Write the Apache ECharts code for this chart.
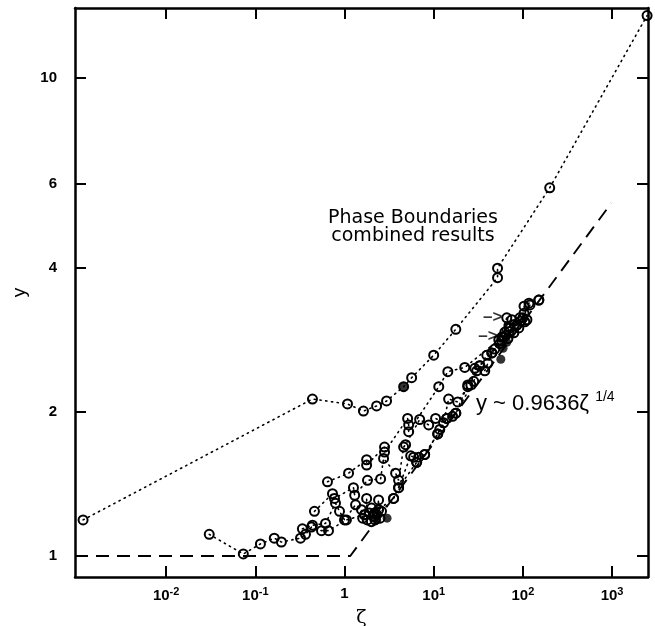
<!DOCTYPE html>
<html><head><meta charset="utf-8">
<script src="https://cdn.jsdelivr.net/npm/echarts@6/dist/echarts.min.js"></script>
<style>html,body{margin:0;padding:0;background:#fff}#c{width:655px;height:626px}</style>
</head><body><div id="c"></div>
<script>
// Axis ticks
const xTicks = [0.01, 0.1, 1, 10, 100, 1000];
const yTicks = [1, 2, 4, 6, 10];
const xRange = [0.00095, 2530];
const yRange = [0.904, 14.0];

// Upper dotted boundary
const seriesA = [[0.00117,1.19],[0.437,2.13],[1.08,2.08],[1.63,2.01],[2.29,2.06],[2.96,2.11],[4.6,2.26],[5.66,2.36],[10,2.63],[17.7,2.98],[52,3.82],[52,4.0],[200,5.89],[2470,13.5]];
// Lowest boundary
const seriesB = [[0.0304,1.11],[0.0733,1.01],[0.114,1.06],[0.163,1.09],[0.196,1.07],[0.321,1.09],[0.365,1.11],[0.426,1.15],[0.552,1.13],[0.661,1.13],[1.05,1.19],[1.68,1.22],[2.41,1.25],[3.55,1.32],[4.04,1.39],[6.44,1.57],[7.92,1.63],[11.1,1.80],[14.0,1.94],[17.7,1.99],[24.1,2.28],[32.9,2.50],[44.9,2.66],[61.2,2.87],[85.6,3.04],[120,3.35],[151,3.43]];
// Middle-upper boundary (ends at upper arrow)
const seriesC = [[0.644,1.43],[1.11,1.49],[1.77,1.59],[1.77,1.55],[2.81,1.69],[2.81,1.65],[5.10,1.94],[5.24,1.88],[5.24,1.82],[11.4,2.26],[14.4,2.43],[22.3,2.48],[53.7,2.83],[66,3.15],[69.6,3.01]];
// Middle boundary (ends at lower arrow)
const seriesD = [[0.46,1.24],[0.733,1.35],[0.772,1.32],[1.26,1.39],[1.30,1.34],[1.81,1.44],[2.54,1.45],[2.74,1.60],[3.74,1.49],[4.04,1.44],[4.60,1.69],[4.84,1.71],[6.96,1.93],[8.79,1.88],[10.5,1.94],[12.9,1.90],[14.7,2.13],[18.6,2.10],[24.1,2.26],[26.1,2.28],[28.9,2.47],[30.4,2.44],[39.4,2.63],[48.4,2.71],[58,2.87]];
// Lower cluster boundary
const seriesE = [[0.337,1.14],[0.437,1.16],[0.612,1.17],[0.792,1.29],[0.879,1.24],[1.0,1.19],[1.33,1.28],[1.55,1.25],[1.6,1.20],[1.68,1.22],[1.77,1.32],[1.8,1.19],[1.9,1.23],[2.0,1.18],[2.01,1.26],[2.1,1.21],[2.17,1.23],[2.2,1.19],[2.3,1.22],[2.41,1.31],[2.5,1.20],[2.6,1.24],[3.55,1.32],[4.04,1.39],[5.52,1.62],[5.96,1.61],[6.44,1.57],[6.78,1.61],[7.92,1.63],[11.1,1.80],[11.7,1.84],[14.0,1.94],[16.3,1.96],[17.7,1.99],[28.1,2.32],[32.9,2.50],[37.4,2.44],[40.5,2.53],[44.9,2.66],[55,2.78],[58,2.82],[61.2,2.87],[62.8,2.94],[65,2.90],[68,2.85],[70,2.95],[72,3.0],[75.2,3.12],[79.2,2.93],[80,3.05],[85.6,3.04],[90,3.0],[92.5,3.15],[95,3.1],[100,3.15],[103,3.22],[105,3.09],[111,3.12],[103,3.33],[117,3.38],[151,3.43]];
// Filled markers
const filledPts = [[4.6,2.26],[56.6,2.58],[3.0,1.20],[2.3,1.19],[60,2.72],[66,2.8]];
// Asymptotes: y = 1 and y ~ 0.9636 zeta^(1/4)
const asymptote = [[0.00095,1],[1.16,1],[980,5.47]];
// Arrow annotations
const arrowPts = [[46,3.15],[40.5,2.88]];

function xLabel(v){
  if (Math.abs(v-1) < 1e-9) return '{b|1}';
  const e = Math.round(Math.log10(v));
  return '{b|10}{s|' + String(e) + '}';
}

function dotted(name, data, z){
  return {type:'line', name, data, symbol:'circle', symbolSize:9, z: z||3,
    itemStyle:{color:'rgba(0,0,0,0)', borderColor:'#000', borderWidth:2},
    lineStyle:{color:'#000', width:1.6, type:[1.3,4.5], cap:'round'},
    emphasis:{disabled:true}, animation:false};
}

const axisCommon = {
  axisLine:{show:true, onZero:false, lineStyle:{color:'#000', width:2.5}},
  splitLine:{show:false},
};

const chart = echarts.init(document.getElementById('c'), null, {renderer:'canvas'});
chart.setOption({
  animation:false,
  backgroundColor:'#fff',
  grid:{left:75, right:7, top:8, bottom:49, containLabel:false, outerBoundsMode:'none'},
  xAxis:[
    Object.assign({type:'log', logBase:10, min:xRange[0], max:xRange[1], position:'bottom',
      name:'ζ', nameLocation:'middle', nameGap:21,
      nameTextStyle:{fontSize:19, color:'#000', fontFamily:'DejaVu Serif'},
      axisTick:{show:true, inside:true, length:11, lineStyle:{color:'#000', width:2}, customValues:xTicks},
      axisLabel:{show:true, margin:9, customValues:xTicks, formatter:xLabel, color:'#000',
        rich:{b:{fontSize:15, fontWeight:'bold', fontFamily:'Liberation Sans', color:'#000'},
              s:{fontSize:11, fontWeight:'bold', fontFamily:'Liberation Sans', color:'#000', verticalAlign:'bottom', padding:[0,0,9,0]}}}
    }, axisCommon),
    Object.assign({type:'log', logBase:10, min:xRange[0], max:xRange[1], position:'top',
      axisTick:{show:true, inside:true, length:11, lineStyle:{color:'#000', width:2}, customValues:xTicks},
      axisLabel:{show:false}}, axisCommon)
  ],
  yAxis:[
    Object.assign({type:'log', logBase:10, min:yRange[0], max:yRange[1], position:'left',
      name:'y', nameLocation:'middle', nameGap:46,
      nameTextStyle:{fontSize:19, color:'#000', fontFamily:'Liberation Sans'},
      axisTick:{show:true, inside:true, length:11, lineStyle:{color:'#000', width:2}, customValues:yTicks},
      axisLabel:{show:true, margin:18, customValues:yTicks, color:'#000', fontSize:15, fontWeight:'bold', fontFamily:'Liberation Sans',
        formatter:(v)=>String(Math.round(v))}
    }, axisCommon),
    Object.assign({type:'log', logBase:10, min:yRange[0], max:yRange[1], position:'right',
      axisTick:{show:true, inside:true, length:11, lineStyle:{color:'#000', width:2}, customValues:yTicks},
      axisLabel:{show:false}}, axisCommon)
  ],
  series:[
    {type:'line', name:'asymptote', data:asymptote, symbol:'none', z:2,
      lineStyle:{color:'#000', width:1.9, type:[13,8]}, emphasis:{disabled:true}},
    dotted('A', seriesA),
    dotted('B', seriesB),
    dotted('C', seriesC),
    dotted('D', seriesD),
    dotted('E', seriesE),
    {type:'scatter', name:'filled', data:filledPts, symbol:'circle', symbolSize:9, z:4,
      itemStyle:{color:'#000'}, emphasis:{disabled:true}},
    {type:'scatter', name:'arrows', data:arrowPts, symbolSize:0, z:5,
      label:{show:true, position:'inside', formatter:'–>', color:'#000', fontSize:17, fontWeight:'bold', fontFamily:'Liberation Sans'},
      emphasis:{disabled:true}}
  ],
  graphic:[
    {type:'text', x:413, y:227, z:10,
      style:{text:'Phase Boundaries\ncombined results', textAlign:'center', textVerticalAlign:'middle',
        font:'19px "DejaVu Sans"', lineHeight:18, fill:'#000'}},
    {type:'text', x:476, y:404, z:10,
      style:{text:'{m|y ~ 0.9636ζ }{s|1/4}', textVerticalAlign:'middle',
        rich:{m:{fontSize:22, fontFamily:'Liberation Sans', color:'#000'},
              s:{fontSize:14, fontFamily:'Liberation Sans', color:'#000', verticalAlign:'bottom', padding:[0,0,13,0]}}}}
  ]
});
</script></body></html>
